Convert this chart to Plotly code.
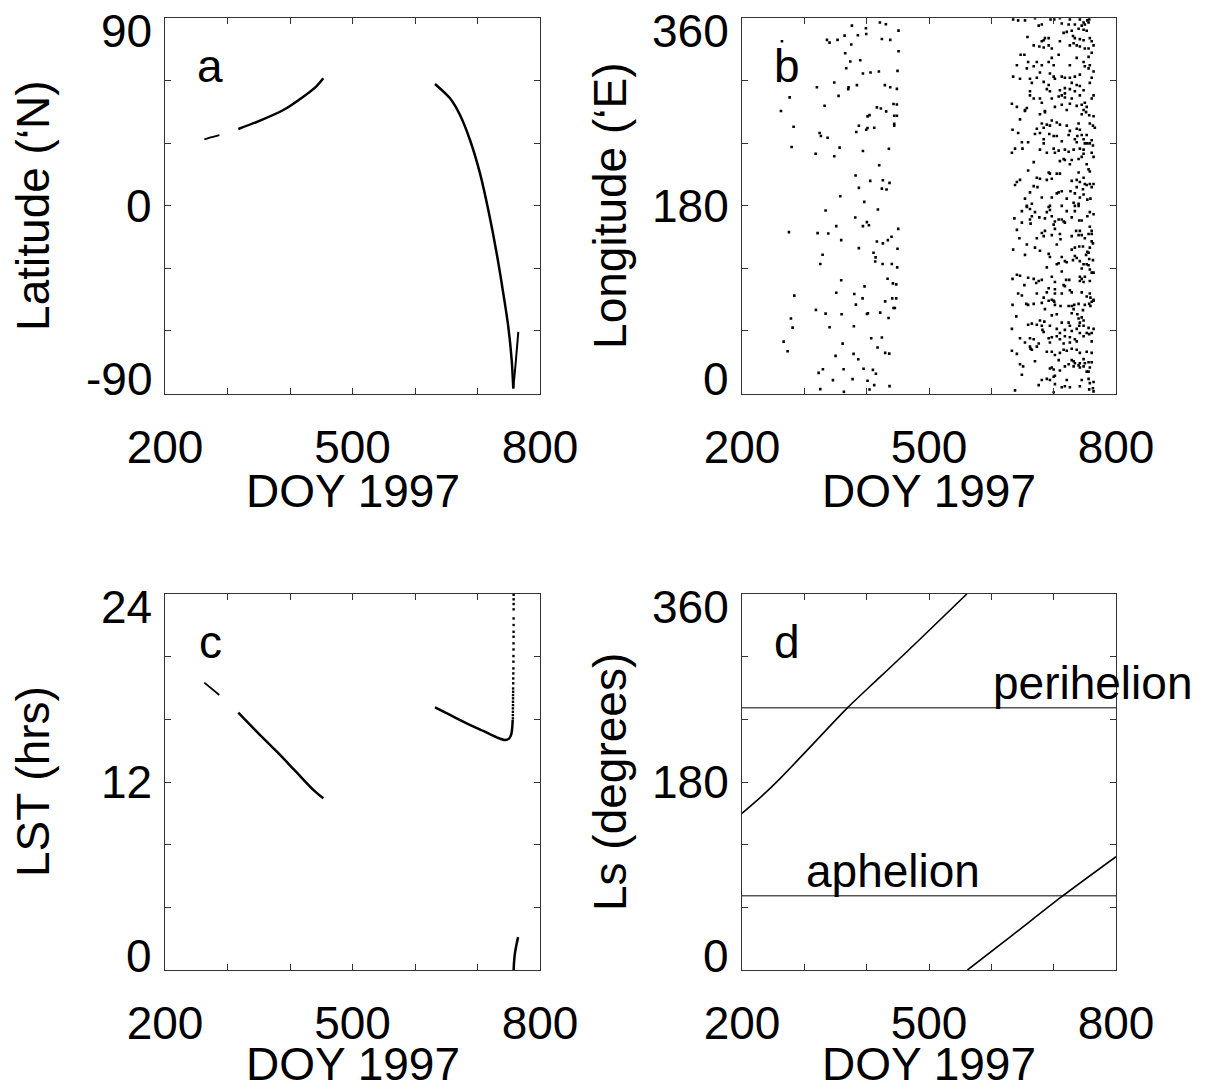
import plotly.graph_objects as go

FONT = "Liberation Sans, Arial, Helvetica, sans-serif"
FS = 46
INK = "#000000"
FRAME = "#333333"

# ---------------- axes ticks ----------------
DOY_TICKS = [200, 300, 400, 500, 600, 700, 800]
DOY_LABELS = ["200", "", "", "500", "", "", "800"]
LAT_TICKS = [-90, -60, -30, 0, 30, 60, 90]
LAT_LABELS = [-90, 0, 90]
LON_TICKS = [0, 60, 120, 180, 240, 300, 360]
LON_LABELS = [0, 180, 360]
LST_TICKS = [0, 4, 8, 12, 16, 20, 24]
LST_LABELS = [0, 12, 24]
LS_TICKS = [0, 60, 120, 180, 240, 300, 360]
LS_LABELS = [0, 180, 360]

# ---------------- panel a : latitude ----------------
lat_seg1_doy = [263, 275, 287]
lat_seg1_lat = [31.9, 33.0, 34.0]
lat_seg2_doy = [317.3, 352, 389.3, 421.3, 442.7, 453.3]
lat_seg2_lat = [36.9, 40.9, 46.0, 52.4, 57.5, 61.2]
lat_seg3_doy = [632, 656, 672, 688, 704, 717.3, 730.7, 741.3, 749.3, 754.7, 757.3]
lat_seg3_lat = [58.5, 51.6, 43.6, 31.6, 15.6, -2.0, -22.8, -42.0, -58.0, -74.0, -87.6]
lat_seg4_doy = [757.3, 761.0, 765.3]
lat_seg4_lat = [-87.6, -75.6, -60.4]

# ---------------- panel b : longitude (sampled points) ----------------
lon_early_pairs = [
    (376.3, 353), (398.8, 350.4), (421.2, 355.9), (430.8, 354.3), (451.1, 348.2),
    (264.1, 338), (336.3, 339.3), (340.5, 336.7), (353.3, 339.3), (364.6, 343.4),
    (385.9, 343.7), (399.3, 345), (424.4, 340.2), (437.8, 339.3), (375.3, 334.8),
    (451.1, 328.4), (365.6, 326.5), (389.7, 319.8), (373.7, 318.5), (367.2, 312.1),
    (394, 307), (406.2, 308), (419.6, 308.9), (449.5, 309.6), (320.2, 293.9),
    (348, 298.4), (371, 293.9), (370.4, 292), (384.3, 295.9), (429.2, 295.9),
    (437.8, 293.9), (448.5, 292.3), (276.4, 284.1), (354.9, 285.6), (332.5, 276.1),
    (416.4, 274.5), (422.8, 273.5), (443.1, 277.7), (448.5, 277.3), (262.5, 271),
    (401.4, 265.9), (404.6, 267.1), (431.3, 270.7), (444.2, 266.5), (448.5, 266.5),
    (282.8, 256), (387.5, 256.9), (399.3, 253.1), (412.1, 255), (444.2, 258.8),
    (444.2, 256.9), (324.5, 249.9), (326.6, 247), (337.3, 245.4), (383.3, 250.9),
    (401.4, 254.7), (279.6, 236.5), (356.6, 235.9), (348, 227.6), (318.1, 230.1),
    (394, 232.7), (435.6, 234.9), (420.1, 219), (382.2, 209.1), (405.7, 204),
    (426, 204.6), (436.7, 202.1), (387.5, 197.3), (424.4, 196.6), (431.9, 195.7),
    (357.6, 189.3), (396.1, 183.9), (334.1, 175.6), (418, 176.5), (381.7, 168.9),
    (400.4, 164.4), (394, 160.6), (403.6, 161.5), (351.2, 160.6), (275.3, 154.8),
    (321.3, 153.9), (338.4, 153.5), (450.6, 158), (359.2, 147.2), (416.4, 145.9),
    (426, 144), (434, 147.2), (439.9, 150.4), (449.5, 138.9), (387.5, 139.5),
    (411, 135), (414.3, 130.6), (413.7, 126.7), (329.3, 133.1), (325.6, 124.2),
    (425.5, 124.2), (440.4, 124.2), (449, 121), (359.2, 108.6), (433.5, 110.1),
    (442, 105.7), (447.4, 104.7), (396.6, 102.8), (351.2, 96.7), (380.1, 95.5),
    (393.4, 91.3), (382.7, 85.3), (283.9, 93.9), (429.7, 88.4), (441, 91.3),
    (447.4, 91.3), (443.1, 82.1), (445.2, 82.1), (318.6, 80.2), (334.1, 76.6),
    (359.8, 76), (400.4, 76.3), (402, 77), (421.7, 77.6), (435.1, 72.5),
    (278.5, 71.9), (281.2, 63.2), (340.5, 63.5), (379.5, 64.5), (266.8, 49.8),
    (407.3, 53), (424.4, 53.7), (361.4, 47.9), (417.5, 44.1), (273.2, 40.5),
    (429.7, 39), (436.2, 38.3), (350.1, 36.1), (379, 38), (386.5, 32.9),
    (329.8, 23.3), (322.9, 19.8), (363, 23.3), (395, 23.7), (410, 22.7),
    (414.8, 18.9), (345.9, 12.8), (377.4, 13.8), (401.4, 12.2), (412.1, 8),
    (436.7, 7.1), (325.6, 4.2), (363.5, 1.6), (404.6, 3.9),
]

lon_late_pairs = [
    (635, 359), (643, 358), (654, 358), (670, 360), (695, 359), (701, 359), (710, 360),
    (726, 359), (742, 359), (748, 356), (754, 358), (757, 359), (713, 355), (724, 354),
    (734, 354), (745, 353), (750, 354), (756, 356), (676, 353), (681, 354), (740, 350),
    (748, 349), (729, 348), (721, 347), (716, 346), (753, 348), (658, 342), (686, 341),
    (692, 341), (684, 339), (681, 338), (731, 343), (734, 341), (742, 340), (758, 341),
    (761, 338), (732, 336), (748, 339), (668, 334), (677, 333), (684, 332), (692, 334),
    (697, 331), (710, 338), (726, 334), (737, 334), (742, 333), (750, 331), (756, 331),
    (764, 334), (647, 325), (653, 325), (697, 322), (708, 325), (737, 322), (756, 323),
    (761, 327), (641, 315), (657, 312), (659, 318), (668, 314), (673, 318), (681, 315),
    (692, 318), (700, 315), (726, 315), (748, 318), (750, 314), (756, 312), (758, 315),
    (764, 309), (678, 308), (635, 304), (646, 302), (662, 302), (673, 303), (694, 307),
    (700, 304), (702, 302), (713, 304), (718, 303), (726, 303), (734, 304), (742, 306),
    (761, 303), (665, 298), (684, 299), (692, 296), (729, 298), (737, 296), (742, 295),
    (758, 298), (662, 290), (689, 292), (694, 290), (710, 291), (718, 293), (726, 292),
    (734, 290), (742, 286), (718, 288), (748, 291), (662, 286), (668, 283), (678, 283),
    (697, 283), (708, 285), (713, 286), (718, 284), (729, 283), (764, 286), (761, 283),
    (633, 278), (641, 275), (657, 274), (681, 279), (702, 275), (713, 277), (726, 278),
    (737, 276), (745, 277), (750, 279), (753, 275), (654, 272), (686, 271), (748, 272),
    (721, 272),
    (654, 271), (678, 268), (686, 270), (745, 268), (752, 270), (757, 267), (764, 266),
    (646, 263), (697, 262), (705, 260), (710, 258), (681, 259), (689, 258), (694, 257),
    (721, 257), (740, 259), (758, 259), (763, 257), (634, 253), (643, 250), (670, 249),
    (673, 254), (678, 250), (684, 255), (726, 252), (737, 254), (742, 253), (745, 248),
    (738, 247), (753, 248), (766, 255), (693, 249), (700, 247), (705, 247), (724, 248),
    (684, 244), (734, 244), (748, 244), (761, 243), (649, 241), (659, 241), (684, 240),
    (713, 242), (737, 241), (750, 240), (754, 240), (758, 240), (763, 238), (638, 235),
    (650, 235), (678, 234), (700, 235), (702, 231), (689, 231), (708, 233), (718, 234),
    (724, 232), (732, 234), (748, 234), (742, 235), (633, 231), (716, 225), (710, 223),
    (718, 224), (729, 224), (740, 225), (748, 230), (761, 231), (764, 227), (745, 227),
    (668, 222), (726, 220), (753, 220), (756, 215), (758, 213), (659, 214), (692, 212),
    (694, 211), (705, 211), (710, 211), (740, 212), (673, 207), (678, 206), (689, 205),
    (697, 206), (729, 204), (737, 205), (748, 207), (750, 201), (742, 203), (753, 200),
    (758, 201), (764, 201), (641, 203), (638, 200), (646, 205), (668, 199), (674, 198),
    (737, 198), (761, 198), (747, 196), (662, 193), (705, 192), (708, 193), (713, 194),
    (727, 194), (734, 192), (748, 191), (654, 187), (681, 188), (697, 188), (721, 187),
    (742, 188), (754, 186), (759, 187), (732, 183), (740, 182), (665, 182), (694, 180),
    (713, 180), (734, 180), (657, 180),
    (657, 179), (662, 177), (692, 179), (740, 180), (649, 175), (670, 174), (689, 174),
    (694, 176), (721, 175), (734, 175), (758, 174), (764, 172), (637, 168), (665, 170),
    (662, 167), (677, 169), (686, 168), (697, 170), (702, 165), (708, 167), (713, 167),
    (716, 165), (718, 164), (729, 169), (741, 166), (745, 166), (754, 170), (758, 160),
    (649, 164), (663, 163), (700, 162), (686, 156), (681, 154), (673, 149), (684, 151),
    (697, 152), (702, 158), (710, 153), (729, 151), (736, 156), (742, 156), (740, 152),
    (745, 152), (750, 149), (761, 156), (761, 153), (756, 153), (763, 144), (641, 157),
    (645, 149), (657, 143), (670, 140), (678, 137), (705, 143), (711, 148), (729, 138),
    (734, 140), (741, 141), (747, 141), (754, 136), (761, 146), (758, 140), (635, 138),
    (654, 133), (692, 134), (694, 131), (713, 131), (718, 127), (734, 132), (737, 130),
    (752, 133), (756, 135), (757, 129), (763, 128), (708, 125), (705, 124), (689, 121),
    (721, 126), (731, 128), (742, 127), (748, 124), (753, 124), (756, 123), (745, 120),
    (758, 119), (761, 116), (641, 114), (646, 113), (659, 111), (668, 110), (676, 108),
    (681, 109), (697, 112), (702, 107), (713, 117), (720, 109), (725, 109), (742, 112),
    (745, 110), (750, 112), (742, 108), (748, 107), (758, 108), (764, 116), (634, 110),
    (653, 104), (672, 106), (716, 104), (718, 103), (692, 101), (702, 100), (726, 99),
    (745, 97), (643, 96), (649, 94), (673, 96), (689, 97), (702, 96), (713, 96),
    (729, 97), (753, 93), (758, 96), (759, 92), (764, 90), (692, 89), (700, 89),
    (684, 92),
    (634, 85), (656, 86), (659, 85), (668, 86), (681, 87), (697, 90), (701, 88),
    (702, 85), (711, 84), (724, 84), (729, 84), (733, 85), (740, 86), (750, 85),
    (757, 86), (761, 88), (764, 89), (686, 81), (732, 81), (729, 77), (738, 76),
    (747, 80), (759, 84), (640, 74), (697, 75), (705, 76), (745, 73), (740, 72),
    (748, 70), (678, 70), (685, 69), (659, 66), (665, 67), (673, 66), (681, 65),
    (694, 65), (713, 68), (724, 68), (726, 65), (742, 68), (741, 65), (748, 65),
    (756, 63), (764, 62), (633, 62), (682, 61), (684, 59), (705, 62), (718, 61),
    (729, 60), (737, 62), (710, 58), (742, 58), (753, 58), (757, 57), (761, 58),
    (646, 53), (662, 53), (668, 52), (692, 53), (697, 54), (705, 55), (718, 55),
    (726, 54), (734, 52), (710, 52), (748, 55), (654, 49), (662, 45), (673, 45),
    (676, 48), (694, 49), (716, 48), (726, 49), (737, 50), (761, 50), (633, 41),
    (641, 38), (663, 43), (665, 42), (689, 40), (697, 40), (702, 37), (710, 39),
    (716, 42), (721, 41), (729, 43), (737, 42), (742, 39), (753, 40), (761, 39),
    (670, 31), (708, 32), (724, 28), (729, 32), (732, 31), (734, 29), (742, 29),
    (748, 33), (750, 29), (756, 30), (761, 30), (748, 26), (758, 25), (646, 28),
    (651, 26), (694, 24), (700, 23), (697, 25), (710, 22), (718, 26), (732, 26),
    (740, 27), (742, 25), (753, 21), (756, 21), (649, 18), (681, 13), (689, 14),
    (694, 13), (700, 16), (702, 17), (721, 13), (745, 13), (756, 14), (758, 10),
    (764, 11), (676, 8), (702, 9), (713, 6), (718, 7), (726, 6), (742, 7), (757, 4),
    (763, 5), (764, 2), (638, 3), (700, 1),
]
lon_doy = [p[0] for p in lon_early_pairs + lon_late_pairs]
lon_val = [p[1] for p in lon_early_pairs + lon_late_pairs]

# ---------------- panel c : local solar time ----------------
lst_seg1_doy = [262.9, 286.9]
lst_seg1_hrs = [18.34, 17.55]
lst_seg2_doy = [317.3, 346.7, 378.7, 410.7, 437.3, 453.3]
lst_seg2_hrs = [16.43, 15.22, 13.95, 12.61, 11.50, 10.96]
lst_seg3_doy = [632, 656, 682.7, 709.3, 730.7, 744, 750.9, 754.1, 755.7, 756.3]
lst_seg3_hrs = [16.77, 16.28, 15.74, 15.26, 14.85, 14.68, 14.79, 15.06, 15.53, 15.96]
lst_dots_doy = [756.6, 756.6, 756.7, 756.7, 756.8, 756.8, 756.9, 756.9, 757.0, 757.0,
                757.1, 757.2, 757.3, 757.4, 757.5, 757.5, 757.6, 757.6, 757.7, 757.7,
                757.8, 757.8, 757.8, 757.8, 757.8, 757.8]
lst_dots_hrs = [16.06, 16.27, 16.48, 16.70, 16.91, 17.12, 17.34, 17.55, 17.76, 17.97,
                18.30, 18.61, 18.93, 19.25, 19.68, 20.04, 20.46, 20.85, 21.27, 21.59,
                22.02, 22.44, 23.02, 23.36, 23.66, 23.95]
lst_seg4_doy = [757.8, 758.5, 760.0, 762.5, 765.0]
lst_seg4_hrs = [0.0, 0.5, 1.1, 1.65, 2.1]

# ---------------- panel d : solar longitude ----------------
ls1_doy = [200, 230, 261.4, 314.9, 368.3, 416, 464.5, 512, 560.7]
ls1_val = [150, 165.5, 183.5, 217, 250.5, 277.5, 304.7, 332, 360]
ls2_doy = [561.7, 635.5, 712.9, 800]
ls2_val = [0, 34.1, 70.2, 108.5]
PERIHELION_LS = 251
APHELION_LS = 71
SEASON_DOY = [200, 800]

# ---------------- figure ----------------
XD_L = [165 / 1210, 540 / 1210]
XD_R = [742 / 1210, 1116 / 1210]
YD_T = [(1087 - 393.5) / 1087, (1087 - 18.3) / 1087]
YD_B = [(1087 - 970) / 1087, (1087 - 594) / 1087]

fig = go.Figure()


def curve(x, y, xa, ya, width=2.5, smooth=True):
    fig.add_trace(go.Scatter(
        x=x, y=y, xaxis=xa, yaxis=ya, mode="lines",
        line=dict(color=INK, width=width, shape="spline" if smooth else "linear",
                  smoothing=0.8),
        hoverinfo="skip", showlegend=False))


def dots(x, y, xa, ya, size=2.6):
    fig.add_trace(go.Scatter(
        x=x, y=y, xaxis=xa, yaxis=ya, mode="markers",
        marker=dict(color=INK, size=size, symbol="square", line=dict(width=0)),
        hoverinfo="skip", showlegend=False, cliponaxis=True))


# panel a
curve(lat_seg1_doy, lat_seg1_lat, "x", "y", width=1.8)
curve(lat_seg2_doy, lat_seg2_lat, "x", "y")
curve(lat_seg3_doy, lat_seg3_lat, "x", "y")
curve(lat_seg4_doy, lat_seg4_lat, "x", "y", width=2.0)
# panel b
dots(lon_doy, lon_val, "x2", "y2")
# panel c
curve(lst_seg1_doy, lst_seg1_hrs, "x3", "y3", width=1.8)
curve(lst_seg2_doy, lst_seg2_hrs, "x3", "y3")
curve(lst_seg3_doy, lst_seg3_hrs, "x3", "y3")
dots(lst_dots_doy, lst_dots_hrs, "x3", "y3", size=2.4)
curve(lst_seg4_doy, lst_seg4_hrs, "x3", "y3", width=2.5)
# panel d
curve(SEASON_DOY, [PERIHELION_LS, PERIHELION_LS], "x4", "y4", width=1.0, smooth=False)
curve(SEASON_DOY, [APHELION_LS, APHELION_LS], "x4", "y4", width=1.0, smooth=False)
curve(ls1_doy, ls1_val, "x4", "y4", width=1.6)
curve(ls2_doy, ls2_val, "x4", "y4", width=1.6)

axis_common = dict(
    showline=True, linecolor=FRAME, linewidth=1, mirror="ticks",
    ticks="inside", ticklen=6, tickcolor=FRAME, tickwidth=1,
    showgrid=False, zeroline=False, fixedrange=True, automargin=False,
    tickfont=dict(family=FONT, size=FS, color=INK),
)


def xaxis(domain, anchor):
    return dict(axis_common, domain=domain, anchor=anchor, range=[200, 800],
                tickmode="array", tickvals=DOY_TICKS, ticktext=DOY_LABELS,
                ticklabelstandoff=13)


def yaxis(domain, anchor, rng, ticks):
    return dict(axis_common, domain=domain, anchor=anchor, range=rng,
                tickmode="array", tickvals=ticks, showticklabels=False)


fig.update_layout(
    template="none",
    width=1210, height=1087, autosize=False,
    margin=dict(l=0, r=0, t=0, b=0, pad=0),
    paper_bgcolor="white", plot_bgcolor="white",
    font=dict(family=FONT, size=FS, color=INK),
    xaxis=xaxis(XD_L, "y"), yaxis=yaxis(YD_T, "x", [-90, 90], LAT_TICKS),
    xaxis2=xaxis(XD_R, "y2"), yaxis2=yaxis(YD_T, "x2", [0, 360], LON_TICKS),
    xaxis3=xaxis(XD_L, "y3"), yaxis3=yaxis(YD_B, "x3", [0, 24], LST_TICKS),
    xaxis4=xaxis(XD_R, "y4"), yaxis4=yaxis(YD_B, "x4", [0, 360], LS_TICKS),
)

ann = []
panels = [
    ("x", "y", LAT_LABELS, [-90, 90], "Latitude (\u2018N)", "a", -97),
    ("x2", "y2", LON_LABELS, [0, 360], "Longitude (\u2018E)", "b", -97),
    ("x3", "y3", LST_LABELS, [0, 24], "LST (hrs)", "c", -94),
    ("x4", "y4", LS_LABELS, [0, 360], "Ls (degrees)", "d", -94),
]
for xa, ya, labels, rng, title, tag, title_shift in panels:
    for v in labels:
        shift = -13 if v == rng[1] else (14 if v == rng[0] else 0)
        ann.append(dict(xref=f"{xa} domain", x=0, yref=ya, y=v, text=str(v),
                        xanchor="right", yanchor="middle", xshift=-11, yshift=shift,
                        showarrow=False, font=dict(family=FONT, size=FS, color=INK)))
    ann.append(dict(xref=f"{xa} domain", x=0, yref=f"{ya} domain", y=0.5,
                    text=title, textangle=-90, xanchor="center", yanchor="middle",
                    xshift=-132, showarrow=False,
                    font=dict(family=FONT, size=FS, color=INK)))
    ann.append(dict(xref=f"{xa} domain", x=0.5, yref=f"{ya} domain", y=0,
                    text="DOY 1997", xanchor="center", yanchor="middle",
                    yshift=title_shift, showarrow=False,
                    font=dict(family=FONT, size=FS, color=INK)))
    ann.append(dict(xref=f"{xa} domain", x=0.12, yref=f"{ya} domain", y=0.872,
                    text=tag, xanchor="center", yanchor="middle", showarrow=False,
                    font=dict(family=FONT, size=FS, color=INK)))

ann.append(dict(xref="x4", x=599, yref="y4", y=PERIHELION_LS, text="perihelion",
                xanchor="left", yanchor="bottom", yshift=-3, showarrow=False,
                font=dict(family=FONT, size=FS, color=INK)))
ann.append(dict(xref="x4", x=300, yref="y4", y=APHELION_LS, text="aphelion",
                xanchor="left", yanchor="bottom", yshift=-3, showarrow=False,
                font=dict(family=FONT, size=FS, color=INK)))

fig.update_layout(annotations=ann)
fig.write_html(
    "out.html",
    config={"displayModeBar": False, "staticPlot": True},
    post_script="document.body.style.margin='0';document.body.style.overflow='hidden';",
)
